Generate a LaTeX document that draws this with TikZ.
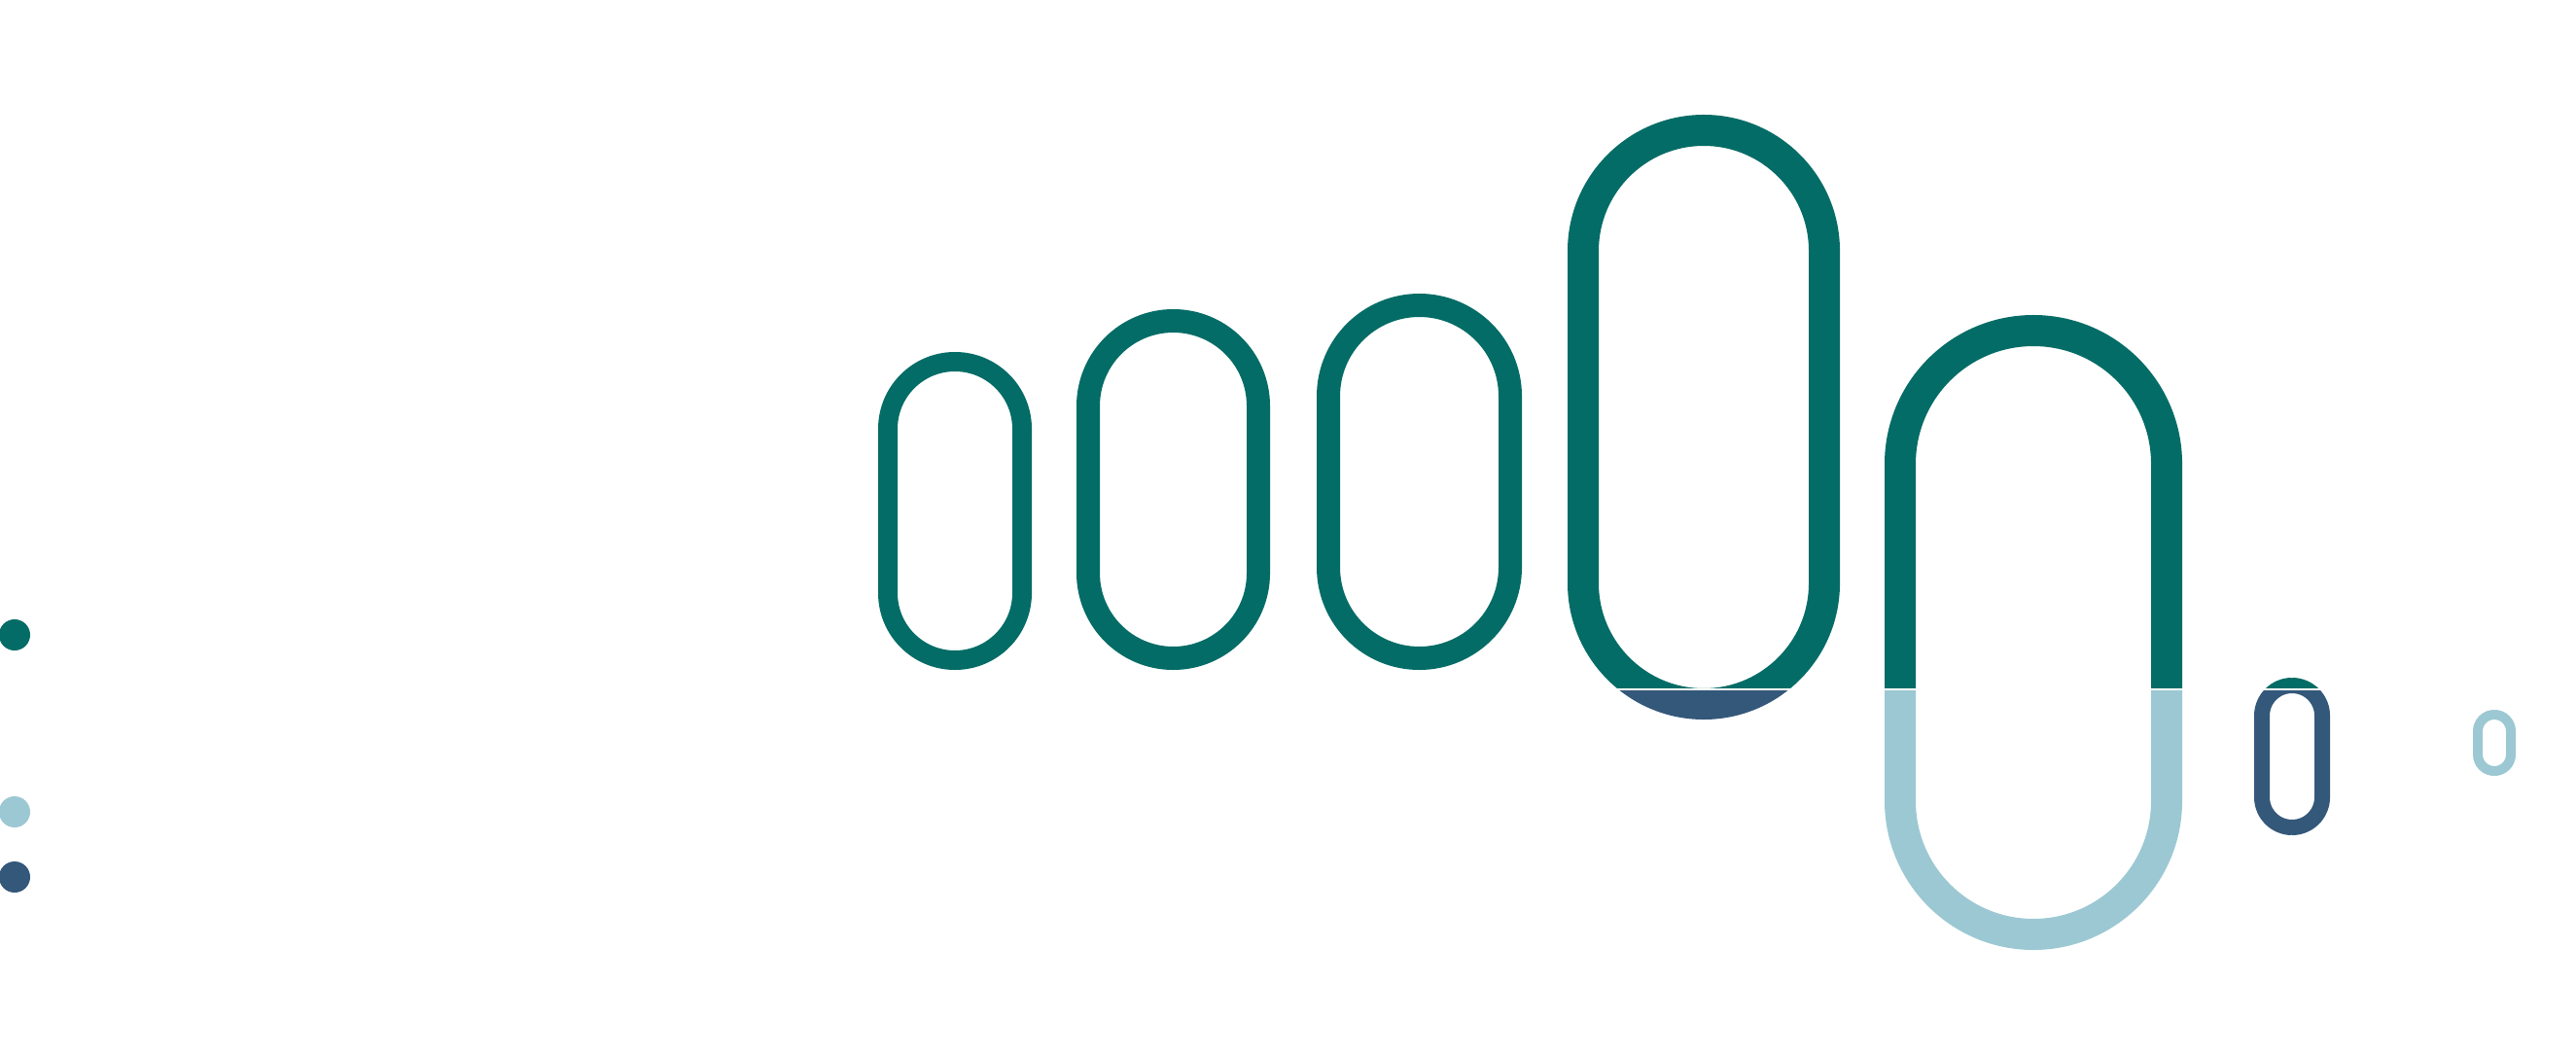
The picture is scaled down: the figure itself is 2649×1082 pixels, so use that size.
\documentclass[tikz,border=0pt]{standalone}
\definecolor{cg}{HTML}{046C66}
\definecolor{cb}{HTML}{34587A}
\definecolor{cl}{HTML}{9CC8D3}
\begin{document}
\begin{tikzpicture}[x=0.01cm,y=-0.01cm]
\useasboundingbox (0,0) rectangle (2649,1082);
\fill[cg] (15,653) circle[radius=0.16cm];
\fill[cl] (15,835) circle[radius=0.16cm];
\fill[cb] (15,902) circle[radius=0.16cm];
\draw[cg,line width=0.2cm,rounded corners=0.69cm] (913,372) rectangle (1051,679);
\draw[cg,line width=0.24cm,rounded corners=0.875cm] (1119,330) rectangle (1294,677);
\draw[cg,line width=0.24cm,rounded corners=0.935cm] (1366,314) rectangle (1553,677);
\begin{scope}
\clip (0,0) rectangle (2649,707);
\draw[cg,line width=0.32cm,rounded corners=1.24cm] (1628,134) rectangle (1876,724);
\draw[cg,line width=0.32cm,rounded corners=1.37cm] (1954,340) rectangle (2228,961);
\draw[cg,line width=0.16cm,rounded corners=0.31cm] (2326,705) rectangle (2388,851);
\end{scope}
\begin{scope}
\clip (0,710) rectangle (2649,1082);
\draw[cb,line width=0.32cm,rounded corners=1.24cm] (1628,134) rectangle (1876,724);
\draw[cl,line width=0.32cm,rounded corners=1.37cm] (1954,340) rectangle (2228,961);
\draw[cb,line width=0.16cm,rounded corners=0.31cm] (2326,705) rectangle (2388,851);
\end{scope}
\draw[cl,line width=0.1cm,rounded corners=0.17cm] (2548,735) rectangle (2582,793);
\end{tikzpicture}
\end{document}
